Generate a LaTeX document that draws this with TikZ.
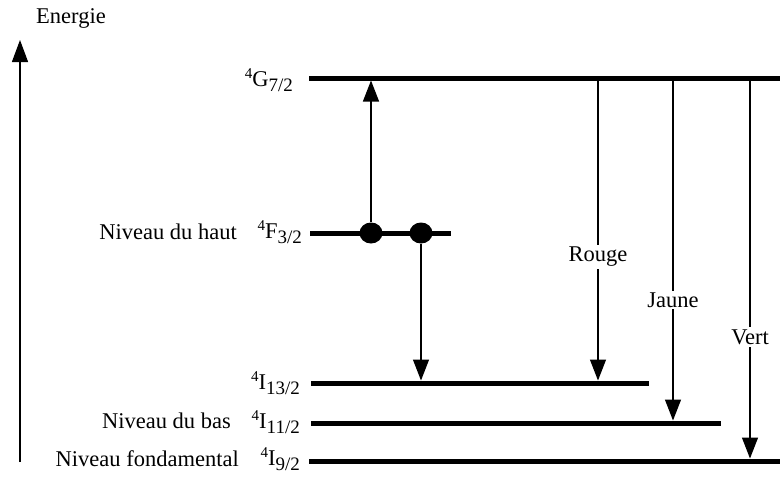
\documentclass[tikz,border=0pt]{standalone}
\usepackage{fontspec}
\setmainfont{Liberation Serif}
\usetikzlibrary{arrows.meta,shapes.geometric}
\newcommand\lvl[3]{\raisebox{8pt}{\fontsize{15}{15}\selectfont #1}#2\raisebox{-5pt}{\fontsize{19}{19}\selectfont #3}}
\begin{document}
\begin{tikzpicture}[x=1pt,y=-1pt,
  level/.style={line width=5pt},
  arr/.style={line width=1.3pt,-{Triangle[width=16pt,length=21pt]}},
  lbl/.style={font=\fontsize{22.5}{27}\selectfont,inner sep=0pt},
  tag/.style={lbl,fill=white,inner sep=2pt},
  dot/.style={ellipse,fill=black,minimum width=23pt,minimum height=21pt,inner sep=0pt}]
\useasboundingbox (0,0) rectangle (780,483);
% axis
\coordinate (ea) at (20,462);
\coordinate (eb) at (20,40);
\draw[arr,-{Triangle[width=16pt,length=22pt]}] (ea) -- (eb);
\node[lbl,anchor=base] (energie) at (71,23) {Energie};
% levels
\coordinate (g0) at (309,78);  \coordinate (g1) at (780,78);
\coordinate (f0) at (310,233); \coordinate (f1) at (451,233);
\coordinate (a0) at (311,383); \coordinate (a1) at (649,383);
\coordinate (b0) at (311,423); \coordinate (b1) at (721,423);
\coordinate (c0) at (309,461); \coordinate (c1) at (780,461);
\draw[level] (g0) -- (g1);
\draw[level] (f0) -- (f1);
\draw[level] (a0) -- (a1);
\draw[level] (b0) -- (b1);
\draw[level] (c0) -- (c1);
% level labels
\node[lbl,anchor=base east] (lg) at (293,86) {\lvl{4}{G}{7/2}};
\node[lbl,anchor=base east] (lf) at (302,238) {\lvl{4}{F}{3/2}};
\node[lbl,anchor=base east] (la) at (300,389) {\lvl{4}{I}{13/2}};
\node[lbl,anchor=base east] (lb) at (300,428) {\lvl{4}{I}{11/2}};
\node[lbl,anchor=base east] (lc) at (300,465) {\lvl{4}{I}{9/2}};
\node[lbl,anchor=base east] (nh) at (237,239) {Niveau du haut};
\node[lbl,anchor=base east] (nb) at (231,428) {Niveau du bas};
\node[lbl,anchor=base east] (nf) at (239,466) {Niveau fondamental};
% dots
\node[dot] (d1) at (371,233) {};
\node[dot] (d2) at (421,233) {};
% transitions
\coordinate (t1) at (371,80.5);
\coordinate (t2) at (421,380.5);
\draw[arr] (d1) -- (t1);
\draw[arr] (d2) -- (t2);
\coordinate (r0) at (598,78);  \coordinate (r1) at (598,380.5);
\coordinate (j0) at (673,78);  \coordinate (j1) at (673,420.5);
\coordinate (v0) at (750,78);  \coordinate (v1) at (750,458.5);
\draw[arr] (r0) -- (r1);
\draw[arr] (j0) -- (j1);
\draw[arr] (v0) -- (v1);
\node[tag] (rouge) at (598,257) {Rouge};
\node[tag] (jaune) at (673,300) {Jaune};
\node[tag] (vert) at (750,337) {Vert};
\end{tikzpicture}
\end{document}
